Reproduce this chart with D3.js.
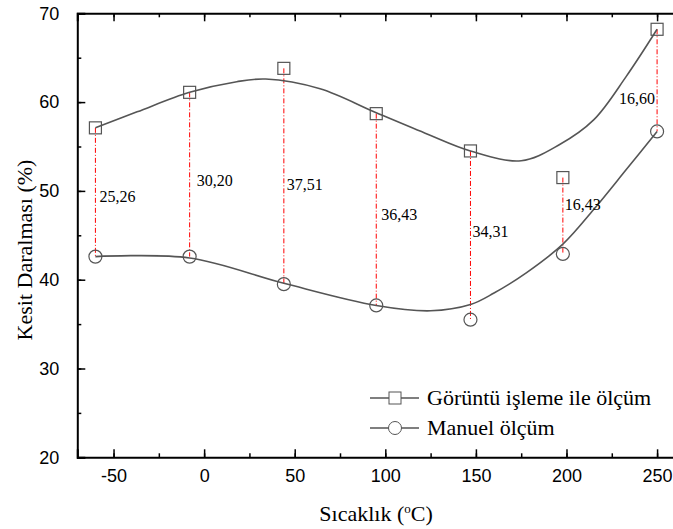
<!DOCTYPE html>
<html>
<head>
<meta charset="utf-8">
<script src="https://cdn.jsdelivr.net/npm/d3@7"></script>
<style>
  body { margin: 0; background: #fff; }
  svg { display: block; }
</style>
</head>
<body>
<div id="chart"></div>
<script>
// measured points
var temps = [-60, -8, 44, 95, 147, 198, 250];
var imageVals = [57.1, 61.1, 63.8, 58.7, 54.5, 51.5, 68.2];
var manualVals = [42.6, 42.6, 39.5, 37.1, 35.5, 42.9, 56.7];
var diffLabels = ["25,26", "30,20", "37,51", "36,43", "34,31", "16,43", "16,60"];

// fitted curves
var imageFitX = [-60, -37, -8, 18, 34, 64, 95, 122, 147, 175, 196, 215, 233, 250];
var imageFitY = [57.1, 58.9, 61.1, 62.3, 62.6, 61.5, 58.8, 56.5, 54.5, 53.4, 55.2, 58.0, 62.9, 68.2];
var manualFitX = [-60, -8, 44, 95, 125, 147, 160, 178, 198, 215, 233, 250];
var manualFitY = [42.6, 42.45, 39.6, 37.1, 36.5, 37.2, 38.5, 40.8, 44.0, 47.9, 52.4, 56.7];

var xTicks = [-50, 0, 50, 100, 150, 200, 250];
var yTicks = [20, 30, 40, 50, 60, 70];
var legendNames = ["Görüntü işleme ile ölçüm", "Manuel ölçüm"];

document.addEventListener('DOMContentLoaded', function () {
    drawChart();
});

function drawChart() {
    var width = 673, height = 529;
    var serif = "'Liberation Serif', 'Times New Roman', serif";
    var sans = "'Liberation Sans', Arial, sans-serif";

    var svg = d3.select("#chart")
        .append("svg")
        .attr("width", width)
        .attr("height", height);

    // scales
    var x = d3.scaleLinear().domain([-70, 260]).range([77.3, 675.2]);
    var y = d3.scaleLinear().domain([20, 70]).range([457.3, 13.3]);

    var minorX = d3.range(-50, 260, 25);
    var minorY = d3.range(20, 71, 5);
    var plain = function (d) { return String(d); };

    // axes (ticks pointing inside)
    svg.append("g")
        .attr("transform", "translate(0," + y(20) + ")")
        .call(d3.axisBottom(x).tickValues(minorX).tickSize(-4).tickFormat(""))
        .call(function (g) { g.select(".domain").remove(); });
    svg.append("g")
        .attr("class", "axis x-axis")
        .attr("transform", "translate(0," + y(20) + ")")
        .call(d3.axisBottom(x).tickValues(xTicks).tickSize(-8).tickPadding(12).tickFormat(plain))
        .selectAll("text")
        .attr("dy", "0.71em")
        .style("font-family", sans)
        .style("font-size", "18px")
        .style("fill", "#000");

    svg.append("g")
        .attr("transform", "translate(0," + y(70) + ")")
        .call(d3.axisTop(x).tickValues(minorX).tickSize(-4).tickFormat(""))
        .call(function (g) { g.select(".domain").remove(); });
    svg.append("g")
        .attr("transform", "translate(0," + y(70) + ")")
        .call(d3.axisTop(x).tickValues(xTicks).tickSize(-8).tickFormat(""));

    svg.append("g")
        .attr("transform", "translate(" + x(-70) + ",0)")
        .call(d3.axisLeft(y).tickValues(minorY).tickSize(-4).tickFormat(""))
        .call(function (g) { g.select(".domain").remove(); });
    svg.append("g")
        .attr("class", "axis y-axis")
        .attr("transform", "translate(" + x(-70) + ",0)")
        .call(d3.axisLeft(y).tickValues(yTicks).tickSize(-8).tickPadding(18).tickFormat(plain))
        .selectAll("text")
        .style("font-family", sans)
        .style("font-size", "18px")
        .style("fill", "#000");

    svg.selectAll(".domain").attr("stroke-width", 2);
    svg.selectAll(".tick line").attr("stroke-width", 1.5);

    // axis titles
    var xTitle = svg.append("text")
        .attr("x", 376)
        .attr("y", 521)
        .attr("text-anchor", "middle")
        .style("font-family", serif)
        .style("font-size", "22px")
        .text("Sıcaklık (");
    xTitle.append("tspan").attr("dy", -8).style("font-size", "13px").text("o");
    xTitle.append("tspan").attr("dy", 8).text("C)");

    svg.append("text")
        .attr("transform", "translate(32," + 250 + ") rotate(-90)")
        .attr("text-anchor", "middle")
        .style("font-family", serif)
        .style("font-size", "22px")
        .text("Kesit Daralması (%)");

    // red dash-dot connectors
    svg.selectAll(".conn")
        .data(temps)
        .enter()
        .append("line")
        .attr("class", "conn")
        .attr("x1", function (d) { return x(d); })
        .attr("x2", function (d) { return x(d); })
        .attr("y1", function (d, i) { return y(imageVals[i]); })
        .attr("y2", function (d, i) { return y(manualVals[i]); })
        .attr("stroke", "#ff0000")
        .attr("stroke-width", 1)
        .attr("stroke-dasharray", "5,2,1,2");

    // fitted curves
    var line = d3.line()
        .x(function (d) { return x(d[0]); })
        .y(function (d) { return y(d[1]); })
        .curve(d3.curveCatmullRom.alpha(0.5));

    svg.append("path")
        .datum(d3.zip(imageFitX, imageFitY))
        .attr("d", line)
        .attr("fill", "none")
        .attr("stroke", "#555")
        .attr("stroke-width", 1.6);

    svg.append("path")
        .datum(d3.zip(manualFitX, manualFitY))
        .attr("d", line)
        .attr("fill", "none")
        .attr("stroke", "#555")
        .attr("stroke-width", 1.6);

    // markers
    svg.selectAll(".sq")
        .data(temps)
        .enter()
        .append("rect")
        .attr("class", "sq")
        .attr("x", function (d) { return x(d) - 6; })
        .attr("y", function (d, i) { return y(imageVals[i]) - 6; })
        .attr("width", 12)
        .attr("height", 12)
        .attr("fill", "none")
        .attr("stroke", "#555")
        .attr("stroke-width", 1.2);

    svg.selectAll(".ci")
        .data(temps)
        .enter()
        .append("circle")
        .attr("class", "ci")
        .attr("cx", function (d) { return x(d); })
        .attr("cy", function (d, i) { return y(manualVals[i]); })
        .attr("r", 6.5)
        .attr("fill", "none")
        .attr("stroke", "#555")
        .attr("stroke-width", 1.2);

    // difference labels
    var labelPos = [[4, 202], [7, 186], [3, 190], [5, 220], [2, 237], [2, 210], [-38, 104]];
    svg.selectAll(".diff")
        .data(diffLabels)
        .enter()
        .append("text")
        .attr("class", "diff")
        .attr("x", function (d, i) { return x(temps[i]) + labelPos[i][0]; })
        .attr("y", function (d, i) { return labelPos[i][1]; })
        .style("font-family", serif)
        .style("font-size", "16px")
        .text(function (d) { return d; });

    // legend
    var legend = svg.append("g")
        .attr("class", "legend")
        .attr("transform", "translate(370,398)");

    var item = legend.selectAll(".legend-item")
        .data(legendNames)
        .enter()
        .append("g")
        .attr("class", "legend-item")
        .attr("transform", function (d, i) { return "translate(0," + (i * 30) + ")"; });

    item.append("line")
        .attr("x1", 0).attr("x2", 49)
        .attr("stroke", "#555")
        .attr("stroke-width", 1.4);
    item.filter(function (d, i) { return i === 0; })
        .append("rect")
        .attr("x", 19).attr("y", -6)
        .attr("width", 12).attr("height", 12)
        .attr("fill", "#fff")
        .attr("stroke", "#555");
    item.filter(function (d, i) { return i === 1; })
        .append("circle")
        .attr("cx", 25).attr("r", 6.5)
        .attr("fill", "#fff")
        .attr("stroke", "#555");
    item.append("text")
        .attr("x", 57)
        .attr("y", 7)
        .style("font-family", serif)
        .style("font-size", "22px")
        .text(function (d) { return d; });
}
</script>
</body>
</html>
